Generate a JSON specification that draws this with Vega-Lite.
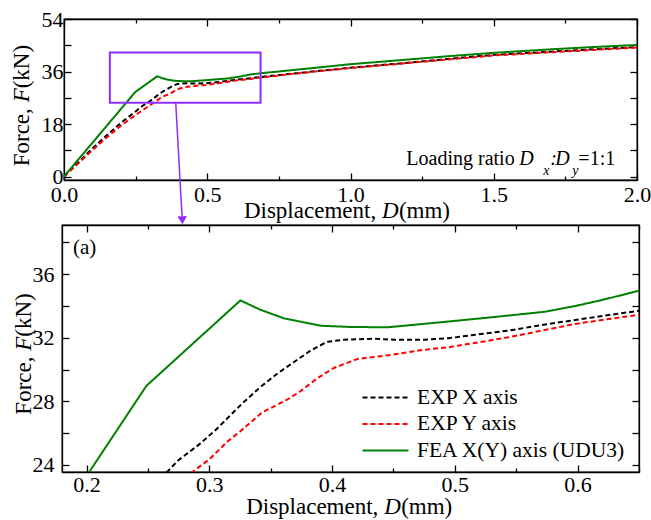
{
  "$schema": "https://vega.github.io/schema/vega-lite/v6.json",
  "background": "white",
  "padding": {"left": 10, "top": 7, "right": 10, "bottom": 2},
  "bounds": "flush",
  "spacing": 45,
  "center": true,
  "datasets": {
    "curves": [
      {"series": "EXP X axis", "d": 0, "f": 0},
      {"series": "EXP X axis", "d": 0.05, "f": 4.8},
      {"series": "EXP X axis", "d": 0.1, "f": 9.7},
      {"series": "EXP X axis", "d": 0.15, "f": 14.2},
      {"series": "EXP X axis", "d": 0.2, "f": 18.5},
      {"series": "EXP X axis", "d": 0.25, "f": 22.3},
      {"series": "EXP X axis", "d": 0.2666, "f": 23.64},
      {"series": "EXP X axis", "d": 0.2745, "f": 24.27},
      {"series": "EXP X axis", "d": 0.2923, "f": 25.32},
      {"series": "EXP X axis", "d": 0.306, "f": 26.26},
      {"series": "EXP X axis", "d": 0.3196, "f": 27.31},
      {"series": "EXP X axis", "d": 0.3265, "f": 27.84},
      {"series": "EXP X axis", "d": 0.3414, "f": 28.89},
      {"series": "EXP X axis", "d": 0.355, "f": 29.72},
      {"series": "EXP X axis", "d": 0.3687, "f": 30.46},
      {"series": "EXP X axis", "d": 0.3824, "f": 31.19},
      {"series": "EXP X axis", "d": 0.396, "f": 31.75},
      {"series": "EXP X axis", "d": 0.4097, "f": 31.88},
      {"series": "EXP X axis", "d": 0.4343, "f": 31.94},
      {"series": "EXP X axis", "d": 0.4507, "f": 31.88},
      {"series": "EXP X axis", "d": 0.4753, "f": 31.88},
      {"series": "EXP X axis", "d": 0.4944, "f": 31.97},
      {"series": "EXP X axis", "d": 0.5107, "f": 32.13},
      {"series": "EXP X axis", "d": 0.5435, "f": 32.45},
      {"series": "EXP X axis", "d": 0.5707, "f": 32.8},
      {"series": "EXP X axis", "d": 0.598, "f": 33.12},
      {"series": "EXP X axis", "d": 0.6253, "f": 33.43},
      {"series": "EXP X axis", "d": 0.65, "f": 33.7},
      {"series": "EXP X axis", "d": 0.686, "f": 34.1},
      {"series": "EXP X axis", "d": 0.8, "f": 35.3},
      {"series": "EXP X axis", "d": 1.0, "f": 37.3},
      {"series": "EXP X axis", "d": 1.2, "f": 39.0},
      {"series": "EXP X axis", "d": 1.349, "f": 40.4},
      {"series": "EXP X axis", "d": 1.5, "f": 41.7},
      {"series": "EXP X axis", "d": 1.698, "f": 42.8},
      {"series": "EXP X axis", "d": 1.85, "f": 43.6},
      {"series": "EXP X axis", "d": 2.0, "f": 44.4},
      {"series": "EXP Y axis", "d": 0, "f": 0},
      {"series": "EXP Y axis", "d": 0.05, "f": 4.5},
      {"series": "EXP Y axis", "d": 0.1, "f": 9.1},
      {"series": "EXP Y axis", "d": 0.15, "f": 13.5},
      {"series": "EXP Y axis", "d": 0.2, "f": 17.5},
      {"series": "EXP Y axis", "d": 0.25, "f": 21.1},
      {"series": "EXP Y axis", "d": 0.2868, "f": 23.58},
      {"series": "EXP Y axis", "d": 0.3005, "f": 24.38},
      {"series": "EXP Y axis", "d": 0.3142, "f": 25.43},
      {"series": "EXP Y axis", "d": 0.325, "f": 26.1},
      {"series": "EXP Y axis", "d": 0.343, "f": 27.3},
      {"series": "EXP Y axis", "d": 0.3633, "f": 28.1},
      {"series": "EXP Y axis", "d": 0.3736, "f": 28.6},
      {"series": "EXP Y axis", "d": 0.3879, "f": 29.45},
      {"series": "EXP Y axis", "d": 0.4015, "f": 30.1},
      {"series": "EXP Y axis", "d": 0.4207, "f": 30.67},
      {"series": "EXP Y axis", "d": 0.448, "f": 30.92},
      {"series": "EXP Y axis", "d": 0.4753, "f": 31.25},
      {"series": "EXP Y axis", "d": 0.4944, "f": 31.4},
      {"series": "EXP Y axis", "d": 0.5161, "f": 31.67},
      {"series": "EXP Y axis", "d": 0.5435, "f": 32.03},
      {"series": "EXP Y axis", "d": 0.5707, "f": 32.45},
      {"series": "EXP Y axis", "d": 0.598, "f": 32.87},
      {"series": "EXP Y axis", "d": 0.6253, "f": 33.18},
      {"series": "EXP Y axis", "d": 0.65, "f": 33.45},
      {"series": "EXP Y axis", "d": 0.686, "f": 33.9},
      {"series": "EXP Y axis", "d": 0.8, "f": 35.2},
      {"series": "EXP Y axis", "d": 1.0, "f": 37.2},
      {"series": "EXP Y axis", "d": 1.2, "f": 38.9},
      {"series": "EXP Y axis", "d": 1.349, "f": 40.2},
      {"series": "EXP Y axis", "d": 1.5, "f": 41.5},
      {"series": "EXP Y axis", "d": 1.698, "f": 42.6},
      {"series": "EXP Y axis", "d": 1.85, "f": 43.4},
      {"series": "EXP Y axis", "d": 2.0, "f": 44.2},
      {"series": "FEA X(Y) axis (UDU3)", "d": 0, "f": 0},
      {"series": "FEA X(Y) axis (UDU3)", "d": 0.2487, "f": 28.97},
      {"series": "FEA X(Y) axis (UDU3)", "d": 0.3253, "f": 34.35},
      {"series": "FEA X(Y) axis (UDU3)", "d": 0.3414, "f": 33.77},
      {"series": "FEA X(Y) axis (UDU3)", "d": 0.3605, "f": 33.23},
      {"series": "FEA X(Y) axis (UDU3)", "d": 0.3906, "f": 32.76},
      {"series": "FEA X(Y) axis (UDU3)", "d": 0.4152, "f": 32.68},
      {"series": "FEA X(Y) axis (UDU3)", "d": 0.4452, "f": 32.66},
      {"series": "FEA X(Y) axis (UDU3)", "d": 0.497, "f": 33.04},
      {"series": "FEA X(Y) axis (UDU3)", "d": 0.5298, "f": 33.29},
      {"series": "FEA X(Y) axis (UDU3)", "d": 0.5735, "f": 33.64},
      {"series": "FEA X(Y) axis (UDU3)", "d": 0.598, "f": 34.0},
      {"series": "FEA X(Y) axis (UDU3)", "d": 0.6172, "f": 34.33},
      {"series": "FEA X(Y) axis (UDU3)", "d": 0.65, "f": 34.96},
      {"series": "FEA X(Y) axis (UDU3)", "d": 0.686, "f": 35.4},
      {"series": "FEA X(Y) axis (UDU3)", "d": 0.8, "f": 36.5},
      {"series": "FEA X(Y) axis (UDU3)", "d": 1.0, "f": 38.5},
      {"series": "FEA X(Y) axis (UDU3)", "d": 1.2, "f": 40.1},
      {"series": "FEA X(Y) axis (UDU3)", "d": 1.349, "f": 41.3},
      {"series": "FEA X(Y) axis (UDU3)", "d": 1.5, "f": 42.4},
      {"series": "FEA X(Y) axis (UDU3)", "d": 1.698, "f": 43.6},
      {"series": "FEA X(Y) axis (UDU3)", "d": 1.85, "f": 44.4},
      {"series": "FEA X(Y) axis (UDU3)", "d": 2.0, "f": 45.1}
    ],
    "box": [{"d": 0.16, "d2": 0.686, "f": 25.3, "f2": 42.5}],
    "arrow": [{"d": 0.39, "f": 25.3}, {"d": 0.412, "f": -13.5}],
    "arrowhead": [{"d": 0.413, "f": -15.0}]
  },
  "vconcat": [
    {
      "width": 573,
      "height": 161,
      "layer": [
        {
          "data": {"name": "curves"},
          "mark": {"type": "line", "strokeWidth": 2, "clip": true},
          "encoding": {
            "x": {"field": "d", "type": "quantitative",
              "scale": {"domain": [0, 2], "nice": false, "zero": false},
              "axis": {"orient": "bottom", "values": [0, 0.25, 0.5, 0.75, 1, 1.25, 1.5, 1.75, 2], "format": ".1f",
                "labelExpr": "abs(datum.value*2 - round(datum.value*2)) < 0.001 ? datum.label : ''",
                "tickSize": {"condition": {"test": "abs(datum.value*2 - round(datum.value*2)) > 0.001", "value": -4}, "value": -7},
                "labelPadding": 11, "title": null}},
            "y": {"field": "f", "type": "quantitative",
              "scale": {"domain": [-1.2, 54], "nice": false, "zero": false},
              "axis": {"orient": "left", "values": [0, 9, 18, 27, 36, 45, 54],
                "labelExpr": "datum.value % 18 === 0 ? datum.label : ''",
                "tickSize": -7, "labelPadding": 8, "title": null}},
            "color": {"field": "series", "type": "nominal",
              "scale": {"domain": ["EXP X axis", "EXP Y axis", "FEA X(Y) axis (UDU3)"], "range": ["#000000", "#ff0000", "#008000"]},
              "legend": null},
            "strokeDash": {"field": "series", "type": "nominal",
              "scale": {"domain": ["EXP X axis", "EXP Y axis", "FEA X(Y) axis (UDU3)"], "range": [[5, 3], [5, 3], [1, 0]]},
              "legend": null}
          }
        },
        {
          "data": {"name": "curves"},
          "mark": {"type": "line", "opacity": 0, "clip": true},
          "encoding": {
            "x": {"field": "d", "type": "quantitative",
              "axis": {"orient": "top", "values": [0, 0.25, 0.5, 0.75, 1, 1.25, 1.5, 1.75, 2], "labels": false, "title": null,
                "tickSize": {"condition": {"test": "abs(datum.value*2 - round(datum.value*2)) > 0.001", "value": -4}, "value": -7}}},
            "y": {"field": "f", "type": "quantitative",
              "axis": {"orient": "right", "values": [0, 9, 18, 27, 36, 45, 54], "labels": false, "title": null, "tickSize": -7}}
          }
        },
        {
          "data": {"name": "box"},
          "mark": {"type": "rect", "fill": null, "stroke": "#8c2cff", "strokeWidth": 2},
          "encoding": {
            "x": {"field": "d", "type": "quantitative", "axis": null},
            "x2": {"field": "d2"},
            "y": {"field": "f", "type": "quantitative", "axis": null},
            "y2": {"field": "f2"}
          }
        },
        {
          "data": {"name": "arrow"},
          "mark": {"type": "line", "stroke": "#8c2cff", "strokeWidth": 1.5, "clip": false},
          "encoding": {
            "x": {"field": "d", "type": "quantitative", "axis": null},
            "y": {"field": "f", "type": "quantitative", "axis": null}
          }
        },
        {
          "data": {"name": "arrowhead"},
          "mark": {"type": "point", "shape": "triangle-down", "filled": true, "color": "#8c2cff", "size": 90, "opacity": 1, "angle": -3},
          "encoding": {
            "x": {"field": "d", "type": "quantitative", "axis": null},
            "y": {"field": "f", "type": "quantitative", "axis": null}
          }
        },
        {
          "data": {"values": [{}]},
          "mark": {"type": "text", "text": "Loading ratio", "font": "Liberation Serif", "fontSize": 20, "align": "left", "baseline": "alphabetic", "color": "black"},
          "encoding": {"x": {"datum": 1.195, "type": "quantitative", "axis": null}, "y": {"datum": 4, "type": "quantitative", "axis": null}}
        },
        {
          "data": {"values": [{}]},
          "mark": {"type": "text", "text": "D", "font": "Liberation Serif", "fontStyle": "italic", "fontSize": 20, "align": "left", "baseline": "alphabetic", "dx": 113, "color": "black"},
          "encoding": {"x": {"datum": 1.195, "type": "quantitative", "axis": null}, "y": {"datum": 4, "type": "quantitative", "axis": null}}
        },
        {
          "data": {"values": [{}]},
          "mark": {"type": "text", "text": "x", "font": "Liberation Serif", "fontStyle": "italic", "fontSize": 14, "align": "left", "baseline": "alphabetic", "dx": 137, "dy": 10, "color": "black"},
          "encoding": {"x": {"datum": 1.195, "type": "quantitative", "axis": null}, "y": {"datum": 4, "type": "quantitative", "axis": null}}
        },
        {
          "data": {"values": [{}]},
          "mark": {"type": "text", "text": ":", "font": "Liberation Serif", "fontStyle": "italic", "fontSize": 20, "align": "left", "baseline": "alphabetic", "dx": 144, "color": "black"},
          "encoding": {"x": {"datum": 1.195, "type": "quantitative", "axis": null}, "y": {"datum": 4, "type": "quantitative", "axis": null}}
        },
        {
          "data": {"values": [{}]},
          "mark": {"type": "text", "text": "D", "font": "Liberation Serif", "fontStyle": "italic", "fontSize": 20, "align": "left", "baseline": "alphabetic", "dx": 149, "color": "black"},
          "encoding": {"x": {"datum": 1.195, "type": "quantitative", "axis": null}, "y": {"datum": 4, "type": "quantitative", "axis": null}}
        },
        {
          "data": {"values": [{}]},
          "mark": {"type": "text", "text": "y", "font": "Liberation Serif", "fontStyle": "italic", "fontSize": 14, "align": "left", "baseline": "alphabetic", "dx": 166, "dy": 10, "color": "black"},
          "encoding": {"x": {"datum": 1.195, "type": "quantitative", "axis": null}, "y": {"datum": 4, "type": "quantitative", "axis": null}}
        },
        {
          "data": {"values": [{}]},
          "mark": {"type": "text", "text": "=1:1", "font": "Liberation Serif", "fontSize": 20, "align": "left", "baseline": "alphabetic", "dx": 172, "color": "black"},
          "encoding": {"x": {"datum": 1.195, "type": "quantitative", "axis": null}, "y": {"datum": 4, "type": "quantitative", "axis": null}}
        },
        {
          "data": {"values": [{}]},
          "mark": {"type": "text", "text": "Displacement,", "font": "Liberation Serif", "fontSize": 23, "align": "left", "baseline": "alphabetic", "color": "black", "clip": false},
          "encoding": {"x": {"datum": 0.628, "type": "quantitative", "axis": null}, "y": {"datum": -14.3, "type": "quantitative", "axis": null}}
        },
        {
          "data": {"values": [{}]},
          "mark": {"type": "text", "text": "D", "font": "Liberation Serif", "fontStyle": "italic", "fontSize": 23, "align": "left", "baseline": "alphabetic", "dx": 138, "color": "black", "clip": false},
          "encoding": {"x": {"datum": 0.628, "type": "quantitative", "axis": null}, "y": {"datum": -14.3, "type": "quantitative", "axis": null}}
        },
        {
          "data": {"values": [{}]},
          "mark": {"type": "text", "text": "(mm)", "font": "Liberation Serif", "fontSize": 23, "align": "left", "baseline": "alphabetic", "dx": 155, "color": "black", "clip": false},
          "encoding": {"x": {"datum": 0.628, "type": "quantitative", "axis": null}, "y": {"datum": -14.3, "type": "quantitative", "axis": null}}
        },
        {
          "data": {"values": [{}]},
          "mark": {"type": "text", "text": "Force,", "font": "Liberation Serif", "fontSize": 23, "align": "left", "baseline": "alphabetic", "angle": 270, "color": "black", "clip": false},
          "encoding": {"x": {"datum": -0.123, "type": "quantitative", "axis": null}, "y": {"datum": 3.5, "type": "quantitative", "axis": null}}
        },
        {
          "data": {"values": [{}]},
          "mark": {"type": "text", "text": "F", "font": "Liberation Serif", "fontStyle": "italic", "fontSize": 23, "align": "left", "baseline": "alphabetic", "angle": 270, "dx": 64, "color": "black", "clip": false},
          "encoding": {"x": {"datum": -0.123, "type": "quantitative", "axis": null}, "y": {"datum": 3.5, "type": "quantitative", "axis": null}}
        },
        {
          "data": {"values": [{}]},
          "mark": {"type": "text", "text": "(kN)", "font": "Liberation Serif", "fontSize": 23, "align": "left", "baseline": "alphabetic", "angle": 270, "dx": 78, "color": "black", "clip": false},
          "encoding": {"x": {"datum": -0.123, "type": "quantitative", "axis": null}, "y": {"datum": 3.5, "type": "quantitative", "axis": null}}
        }
      ],
      "resolve": {"axis": {"x": "independent", "y": "independent"}}
    },
    {
      "width": 577,
      "height": 247,
      "layer": [
        {
          "data": {"name": "curves"},
          "mark": {"type": "line", "strokeWidth": 2, "clip": true},
          "encoding": {
            "x": {"field": "d", "type": "quantitative",
              "scale": {"domain": [0.18, 0.65], "nice": false, "zero": false},
              "axis": {"orient": "bottom", "values": [0.2, 0.25, 0.3, 0.35, 0.4, 0.45, 0.5, 0.55, 0.6, 0.65], "format": ".1f",
                "labelExpr": "abs(datum.value*10 - round(datum.value*10)) < 0.001 ? datum.label : ''",
                "tickSize": {"condition": {"test": "abs(datum.value*10 - round(datum.value*10)) > 0.001", "value": -4}, "value": -7},
                "labelPadding": 9, "title": null}},
            "y": {"field": "f", "type": "quantitative",
              "scale": {"domain": [23.55, 39.1], "nice": false, "zero": false},
              "axis": {"orient": "left", "values": [24, 26, 28, 30, 32, 34, 36, 38],
                "labelExpr": "datum.value % 4 === 0 ? datum.label : ''",
                "tickSize": -7, "labelPadding": 15, "title": null}},
            "color": {"field": "series", "type": "nominal",
              "scale": {"domain": ["EXP X axis", "EXP Y axis", "FEA X(Y) axis (UDU3)"], "range": ["#000000", "#ff0000", "#008000"]},
              "legend": {"orient": "none", "legendX": 311, "legendY": 160, "title": null, "symbolType": "M-2,0H2", "symbolSize": 529, "symbolStrokeWidth": 2, "labelFont": "Liberation Serif", "labelFontSize": 21.5, "labelColor": "black", "labelOffset": 19, "labelLimit": 400, "rowPadding": 3.5}},
            "strokeDash": {"field": "series", "type": "nominal",
              "scale": {"domain": ["EXP X axis", "EXP Y axis", "FEA X(Y) axis (UDU3)"], "range": [[5, 3], [5, 3], [1, 0]]},
              "legend": {"orient": "none", "legendX": 311, "legendY": 160, "title": null, "symbolType": "M-2,0H2", "symbolSize": 529, "symbolStrokeWidth": 2, "labelFont": "Liberation Serif", "labelFontSize": 21.5, "labelColor": "black", "labelOffset": 19, "labelLimit": 400, "rowPadding": 3.5}}
          }
        },
        {
          "data": {"name": "curves"},
          "mark": {"type": "line", "opacity": 0, "clip": true},
          "encoding": {
            "x": {"field": "d", "type": "quantitative",
              "axis": {"orient": "top", "values": [0.2, 0.25, 0.3, 0.35, 0.4, 0.45, 0.5, 0.55, 0.6, 0.65], "labels": false, "title": null,
                "tickSize": {"condition": {"test": "abs(datum.value*10 - round(datum.value*10)) > 0.001", "value": -4}, "value": -7}}},
            "y": {"field": "f", "type": "quantitative",
              "axis": {"orient": "right", "values": [24, 26, 28, 30, 32, 34, 36, 38], "labels": false, "title": null, "tickSize": -7}}
          }
        },
        {
          "data": {"values": [{}]},
          "mark": {"type": "text", "text": "(a)", "font": "Liberation Serif", "fontSize": 21, "align": "left", "baseline": "alphabetic", "color": "black"},
          "encoding": {"x": {"datum": 0.189, "type": "quantitative", "axis": null}, "y": {"datum": 37.3, "type": "quantitative", "axis": null}}
        },
        {
          "data": {"values": [{}]},
          "mark": {"type": "text", "text": "Displacement,", "font": "Liberation Serif", "fontSize": 23, "align": "left", "baseline": "alphabetic", "color": "black", "clip": false},
          "encoding": {"x": {"datum": 0.33, "type": "quantitative", "axis": null}, "y": {"datum": 20.9, "type": "quantitative", "axis": null}}
        },
        {
          "data": {"values": [{}]},
          "mark": {"type": "text", "text": "D", "font": "Liberation Serif", "fontStyle": "italic", "fontSize": 23, "align": "left", "baseline": "alphabetic", "dx": 138, "color": "black", "clip": false},
          "encoding": {"x": {"datum": 0.33, "type": "quantitative", "axis": null}, "y": {"datum": 20.9, "type": "quantitative", "axis": null}}
        },
        {
          "data": {"values": [{}]},
          "mark": {"type": "text", "text": "(mm)", "font": "Liberation Serif", "fontSize": 23, "align": "left", "baseline": "alphabetic", "dx": 155, "color": "black", "clip": false},
          "encoding": {"x": {"datum": 0.33, "type": "quantitative", "axis": null}, "y": {"datum": 20.9, "type": "quantitative", "axis": null}}
        },
        {
          "data": {"values": [{}]},
          "mark": {"type": "text", "text": "Force,", "font": "Liberation Serif", "fontSize": 23, "align": "left", "baseline": "alphabetic", "angle": 270, "color": "black", "clip": false},
          "encoding": {"x": {"datum": 0.1548, "type": "quantitative", "axis": null}, "y": {"datum": 27.16, "type": "quantitative", "axis": null}}
        },
        {
          "data": {"values": [{}]},
          "mark": {"type": "text", "text": "F", "font": "Liberation Serif", "fontStyle": "italic", "fontSize": 23, "align": "left", "baseline": "alphabetic", "angle": 270, "dx": 64, "color": "black", "clip": false},
          "encoding": {"x": {"datum": 0.1548, "type": "quantitative", "axis": null}, "y": {"datum": 27.16, "type": "quantitative", "axis": null}}
        },
        {
          "data": {"values": [{}]},
          "mark": {"type": "text", "text": "(kN)", "font": "Liberation Serif", "fontSize": 23, "align": "left", "baseline": "alphabetic", "angle": 270, "dx": 78, "color": "black", "clip": false},
          "encoding": {"x": {"datum": 0.1548, "type": "quantitative", "axis": null}, "y": {"datum": 27.16, "type": "quantitative", "axis": null}}
        }
      ],
      "resolve": {"axis": {"x": "independent", "y": "independent"}}
    }
  ],
  "resolve": {"legend": {"color": "independent", "strokeDash": "independent"}},
  "config": {
    "view": {"stroke": "black", "strokeWidth": 1.3},
    "axis": {"domainColor": "black", "domainWidth": 1.3, "tickColor": "black", "tickWidth": 1.3, "grid": false,
      "labelFont": "Liberation Serif", "labelFontSize": 22, "labelColor": "black", "labelFlush": false, "labelOverlap": false,
      "titleFont": "Liberation Serif", "titleFontSize": 23, "titleFontWeight": "normal", "titleColor": "black"},
    "legend": {"labelFont": "Liberation Serif"}
  }
}
